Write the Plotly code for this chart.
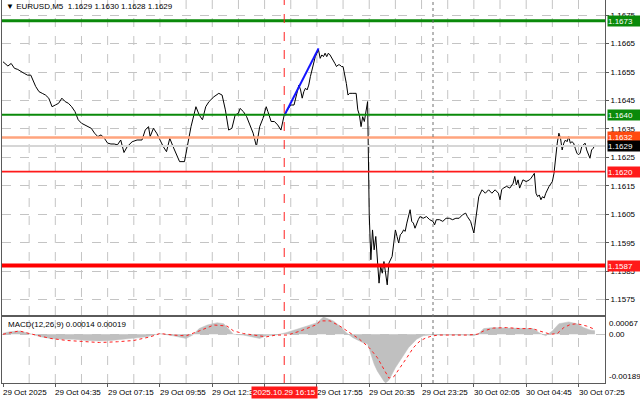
import plotly.graph_objects as go

# ---------------- data ----------------
price_bar = [0, 1, 3, 5, 7, 9, 11, 13, 15, 17, 20, 22, 24, 26, 28, 30, 32, 34, 36, 38, 40, 42, 44, 46, 48,
             50, 52, 54, 56, 58, 60, 62, 64, 66, 68, 70, 72, 74, 76, 79, 82, 85, 87, 89, 90, 92, 94, 96, 98,
             100, 102, 104, 106, 108, 111, 113, 115, 118, 120, 122, 124, 126, 129, 132, 134, 136, 138, 140,
             142, 144, 145, 147, 149, 151, 153, 155, 157, 159, 161, 162, 164, 166, 168, 170, 172, 174, 176,
             178, 180, 181, 182, 183, 184, 185, 186, 187, 188, 189, 190, 191, 192, 193, 194, 195, 196, 197,
             198, 199, 200, 201, 202, 203, 204, 205, 206, 207, 208, 209, 210, 211, 212, 214, 216, 217, 218,
             219, 220, 221, 222, 223, 224, 225, 226, 227, 228, 229, 230, 231, 232, 233, 234, 235, 236, 237,
             238, 239, 240, 241, 242, 243, 244, 245, 246, 247, 248, 249, 250, 251, 252, 253, 254, 255, 257,
             259, 261, 263, 264, 265, 267, 269, 271, 273, 275, 277, 279, 281, 283, 284, 286, 288, 289, 290,
             291, 293, 295, 297, 299, 301, 303, 304, 305, 306, 308, 310, 312, 313, 314, 315, 316, 318, 320,
             322, 323, 325, 326, 327, 328, 329, 330, 331, 332, 334, 336, 337, 338, 339, 340, 341, 342, 343,
             344, 345, 346, 347, 348, 349, 350, 351, 352, 353, 354, 356, 357, 358, 359, 360, 361, 362]
price_val = [1.16586, 1.16580, 1.16571, 1.16580, 1.16563, 1.16559, 1.16551, 1.16545, 1.16539, 1.16539,
             1.16499, 1.16481, 1.16475, 1.16469, 1.16458, 1.16428, 1.16434, 1.16440, 1.16458, 1.16446,
             1.16440, 1.16428, 1.16411, 1.16382, 1.16370, 1.16364, 1.16360, 1.16352, 1.16335, 1.16323,
             1.16329, 1.16317, 1.16300, 1.16297, 1.16297, 1.16294, 1.16311, 1.16267, 1.16288, 1.16305,
             1.16311, 1.16311, 1.16346, 1.16358, 1.16323, 1.16352, 1.16335, 1.16311, 1.16288, 1.16270,
             1.16317, 1.16288, 1.16259, 1.16235, 1.16235, 1.16300, 1.16358, 1.16428, 1.16399, 1.16382,
             1.16428, 1.16446, 1.16463, 1.16475, 1.16469, 1.16417, 1.16346, 1.16352, 1.16399, 1.16405,
             1.16422, 1.16411, 1.16393, 1.16364, 1.16335, 1.16288, 1.16358, 1.16387, 1.16428, 1.16411,
             1.16376, 1.16376, 1.16364, 1.16346, 1.16399, 1.16417, 1.16434, 1.16434, 1.16475, 1.16504,
             1.16487, 1.16458, 1.16481, 1.16493, 1.16487, 1.16504, 1.16534, 1.16557, 1.16586, 1.16604,
             1.16616, 1.16627, 1.16598, 1.16610, 1.16604, 1.16616, 1.16604, 1.16616, 1.16610, 1.16598,
             1.16592, 1.16580, 1.16569, 1.16575, 1.16575, 1.16569, 1.16569, 1.16545, 1.16510, 1.16469,
             1.16475, 1.16475, 1.16475, 1.16417, 1.16399, 1.16358, 1.16393, 1.16376, 1.16405, 1.16446,
             1.16050, 1.15890, 1.15995, 1.15925, 1.15972, 1.15902, 1.15808, 1.15867, 1.15843, 1.15884,
             1.15832, 1.15802, 1.15878, 1.15890, 1.15902, 1.15949, 1.15995, 1.15972, 1.15949, 1.15978,
             1.15984, 1.15995, 1.15990, 1.16019, 1.16042, 1.16066, 1.16025, 1.16019, 1.16001, 1.16019,
             1.16031, 1.16042, 1.16036, 1.16042, 1.16031, 1.16025, 1.16013, 1.16031, 1.16031, 1.16025,
             1.16036, 1.16036, 1.16031, 1.16036, 1.16036, 1.16048, 1.16054, 1.16042, 1.16025, 1.15984,
             1.16025, 1.16060, 1.16112, 1.16136, 1.16124, 1.16136, 1.16124, 1.16136, 1.16124, 1.16101,
             1.16136, 1.16142, 1.16148, 1.16142, 1.16159, 1.16183, 1.16153, 1.16171, 1.16142, 1.16171,
             1.16165, 1.16171, 1.16177, 1.16194, 1.16124, 1.16112, 1.16118, 1.16101, 1.16112, 1.16107,
             1.16124, 1.16148, 1.16165, 1.16194, 1.16253, 1.16300, 1.16335, 1.16317, 1.16276, 1.16300,
             1.16311, 1.16305, 1.16323, 1.16300, 1.16305, 1.16300, 1.16282, 1.16265, 1.16259, 1.16265,
             1.16288, 1.16300, 1.16276, 1.16259, 1.16247, 1.16276, 1.16282, 1.16294]

trend_bar = [172, 193]
trend_val = [1.16396, 1.16633]

hist_bar = [0, 4, 10, 15, 18, 23, 29, 35, 43, 51, 59, 66, 74, 82, 88, 92, 96, 104, 112, 116, 120, 125,
            131, 135, 139, 141, 147, 153, 157, 161, 167, 173, 180, 186, 192, 194, 196, 198, 202, 206, 210,
            214, 220, 223, 225, 227, 229, 231, 233, 234, 236, 240, 244, 248, 253, 257, 261, 267, 275, 284,
            288, 291, 294, 300, 308, 316, 324, 328, 332, 336, 340, 346, 351, 355, 359, 362]
hist_val = [0.00004, 0.00010, 0.00013, 0.00006, 0.00000, -0.00010, -0.00016, -0.00019, -0.00019, -0.00024,
            -0.00026, -0.00024, -0.00019, -0.00016, -0.00010, -0.00003, 0.00003, -0.00006, -0.00016,
            -0.00003, 0.00022, 0.00036, 0.00045, 0.00041, 0.00013, 0.00000, -0.00003, -0.00010, -0.00016,
            -0.00006, -0.00003, 0.00006, 0.00019, 0.00032, 0.00045, 0.00055, 0.00067, 0.00062, 0.00052,
            0.00032, 0.00006, -0.00013, -0.00032, -0.00038, -0.00074, -0.00116, -0.00143, -0.00165,
            -0.00182, -0.00189, -0.00178, -0.00130, -0.00091, -0.00052, -0.00019, -0.00006, -0.00003,
            -0.00003, -0.00003, -0.00003, -0.00006, 0.00003, 0.00022, 0.00026, 0.00024, 0.00024, 0.00022,
            0.00006, -0.00006, 0.00013, 0.00041, 0.00048, 0.00041, 0.00026, 0.00017, 0.00014]

sig_bar = [0, 10, 16, 29, 39, 49, 59, 70, 80, 90, 96, 104, 112, 120, 129, 137, 141, 147, 157, 161, 167,
           174, 182, 192, 194, 200, 206, 212, 218, 224, 229, 233, 236, 239, 243, 247, 251, 255, 259, 263,
           267, 284, 290, 294, 300, 308, 316, 324, 328, 335, 339, 343, 347, 351, 357, 361, 362]
sig_val = [0.00000, 0.00013, 0.00003, -0.00016, -0.00024, -0.00029, -0.00032, -0.00029, -0.00024,
           -0.00010, 0.00003, -0.00003, -0.00006, 0.00013, 0.00036, 0.00032, 0.00013, 0.00003, -0.00006,
           -0.00010, -0.00003, -0.00003, 0.00013, 0.00038, 0.00052, 0.00052, 0.00032, 0.00006, -0.00019,
           -0.00052, -0.00091, -0.00136, -0.00170, -0.00165, -0.00130, -0.00091, -0.00052, -0.00026,
           -0.00013, -0.00006, -0.00003, -0.00003, 0.00000, 0.00013, 0.00024, 0.00026, 0.00022, 0.00022,
           0.00013, 0.00000, 0.00003, 0.00026, 0.00038, 0.00041, 0.00032, 0.00024, 0.00019]

levels = [1.1673, 1.1640, 1.1632, 1.1629, 1.1620, 1.1587]
level_labels = ["1.1673", "1.1640", "1.1632", "1.1629", "1.1620", "1.1587"]
level_colors = ["#0A8A0A", "#0A8A0A", "#FFA47E", "#D6D6D6", "#FF1A1A", "#FF0000"]
level_widths = [3, 2, 2.5, 2, 1.6, 4]
label_bg = ["#0A8A0A", "#0A8A0A", "#FF4A10", "#000000", "#FF1A1A", "#FF1A1A"]

price_ticks = [1.1575, 1.1585, 1.1595, 1.1605, 1.1615, 1.1625, 1.1635, 1.1645, 1.1655, 1.1665, 1.1675]
price_tick_text = ["1.1575", "1.1585", "1.1595", "1.1605", "1.1615", "1.1625", "1.1635", "1.1645",
                   "1.1655", "1.1665", "1.1675"]

x_tick_bars = [0, 32, 64, 96, 128, 160, 192, 224, 256, 288, 320, 352]
x_label_bars = [0, 32, 64, 96, 128, 192, 224, 256, 288, 320, 352]
x_label_text = ["29 Oct 2025", "29 Oct 04:35", "29 Oct 07:15", "29 Oct 09:55", "29 Oct 12:35",
                "29 Oct 17:55", "29 Oct 20:35", "29 Oct 23:25", "30 Oct 02:05",
                "30 Oct 04:45", "30 Oct 07:25"]
grid_bars = [16, 32, 48, 64, 80, 96, 112, 128, 144, 160, 176, 192, 208, 224, 240, 256, 272, 288, 304,
             320, 336, 352]

event_bar = 172
event_label = "2025.10.29 16:15"
day_sep_bar = 263

macd_levels = [0.00067, 0.0, -0.00189]
macd_level_text = ["0.00067", "0.00", "-0.00189"]
macd_range = [-0.00189, 0.00067]
price_range = [1.15696, 1.16803]

title_text = "▼ EURUSD,M5  1.1629 1.1630 1.1628 1.1629"
macd_text = "MACD(12,26,9) 0.00014 0.00019"

# ---------------- figure ----------------
FONT = "Liberation Sans, Arial, sans-serif"
GRID = "#C4C4C4"
FRAME = "#5A5A5A"

fig = go.Figure()

fig.add_trace(go.Scatter(x=price_bar, y=price_val, mode="lines",
                         line=dict(color="#000000", width=1), xaxis="x", yaxis="y",
                         hoverinfo="skip"))
fig.add_trace(go.Scatter(x=trend_bar, y=trend_val, mode="lines",
                         line=dict(color="#1414FF", width=2), xaxis="x", yaxis="y",
                         hoverinfo="skip"))
fig.add_trace(go.Scatter(x=hist_bar, y=hist_val, mode="lines", fill="tozeroy",
                         fillcolor="#C0C0C0", line=dict(color="#C0C0C0", width=0.5),
                         xaxis="x2", yaxis="y2", hoverinfo="skip"))
fig.add_trace(go.Scatter(x=sig_bar, y=sig_val, mode="lines",
                         line=dict(color="#FF2020", width=1, dash="dot"),
                         xaxis="x2", yaxis="y2", hoverinfo="skip"))

shapes = []
# vertical dashed grid lines in both panels
for gb in grid_bars:
    for ya in ("y", "y2"):
        shapes.append(dict(type="line", xref="x", yref=ya + " domain", x0=gb, x1=gb, y0=0, y1=1,
                           line=dict(color=GRID, width=1, dash="dash"), layer="below"))
for lv, col, w in zip(levels, level_colors, level_widths):
    shapes.append(dict(type="line", xref="paper", yref="y", x0=0, x1=1, y0=lv, y1=lv,
                       line=dict(color=col, width=w), layer="above"))
# event (red dashed) vertical line across both panels
shapes.append(dict(type="line", xref="x", yref="paper", x0=event_bar, x1=event_bar, y0=0, y1=1,
                   line=dict(color="#FF2020", width=1, dash="dash"), layer="above"))
# day separator
shapes.append(dict(type="line", xref="x", yref="paper", x0=day_sep_bar, x1=day_sep_bar, y0=0, y1=1,
                   line=dict(color="#707070", width=1, dash="dot"), layer="above"))

annotations = []
for lv, txt, bg in zip(levels, level_labels, label_bg):
    annotations.append(dict(xref="paper", yref="y", x=1.0033, y=lv, text=txt, showarrow=False,
                            xanchor="left", yanchor="middle", bgcolor=bg, borderpad=0,
                            width=32, height=10, align="left",
                            font=dict(family=FONT, size=8, color="#FFFFFF")))
for lv, txt in zip(macd_levels, macd_level_text):
    annotations.append(dict(xref="paper", yref="y2", x=1.0033, y=lv, text=txt, showarrow=False,
                            xanchor="left",
                            yanchor="top" if lv == max(macd_levels) else (
                                "bottom" if lv == min(macd_levels) else "middle"),
                            font=dict(family=FONT, size=8, color="#000000")))
for xb, txt in zip(x_label_bars, x_label_text):
    annotations.append(dict(xref="x2", yref="paper", x=xb, y=-0.0235, text=txt, showarrow=False,
                            xanchor="left", yanchor="middle", xshift=-2,
                            font=dict(family=FONT, size=8, color="#000000")))
annotations.append(dict(xref="x2", yref="paper", x=event_bar, y=-0.0235, text=event_label,
                        showarrow=False, xanchor="center", yanchor="middle", bgcolor="#FF1A1A",
                        borderpad=1, font=dict(family=FONT, size=8, color="#FFFFFF")))
annotations.append(dict(xref="paper", yref="paper", x=0.0033, y=0.982, text=title_text,
                        showarrow=False, xanchor="left", yanchor="middle",
                        font=dict(family=FONT, size=8, color="#000000")))
annotations.append(dict(xref="paper", yref="paper", x=0.0066, y=0.154, text=macd_text,
                        showarrow=False, xanchor="left", yanchor="middle",
                        font=dict(family=FONT, size=8, color="#000000")))

xr = [-0.61, 368.2]

fig.update_layout(
    width=640, height=401,
    margin=dict(l=2, r=35, t=0, b=18),
    autosize=False,
    paper_bgcolor="#FFFFFF", plot_bgcolor="#FFFFFF",
    showlegend=False,
    font=dict(family=FONT, size=8, color="#000000"),
    xaxis=dict(range=xr, anchor="y", domain=[0, 1], showticklabels=False, ticks="",
               showgrid=False, showline=True, linecolor=FRAME, linewidth=1, mirror=True,
               zeroline=False, fixedrange=True),
    xaxis2=dict(range=xr, anchor="y2", domain=[0, 1], showticklabels=False,
                tickvals=x_tick_bars, ticks="outside", ticklen=3, tickcolor=FRAME,
                showgrid=False, showline=True, linecolor=FRAME, linewidth=1, mirror=True,
                zeroline=False, fixedrange=True),
    yaxis=dict(domain=[0.1775, 1], range=price_range, side="right", anchor="x",
               tickvals=price_ticks, ticktext=price_tick_text, showgrid=True, gridcolor=GRID,
               griddash="dash", showline=True, linecolor=FRAME, linewidth=1, mirror=True,
               ticks="outside", ticklen=3, tickcolor=FRAME, zeroline=False,
               tickfont=dict(family=FONT, size=8, color="#000000"), fixedrange=True),
    yaxis2=dict(domain=[0, 0.1723], range=macd_range, side="right", anchor="x2",
                tickvals=[0.0], showticklabels=False, showgrid=True, gridcolor=GRID,
                griddash="dash", showline=True, linecolor=FRAME, linewidth=1, mirror=True,
                ticks="", zeroline=False, fixedrange=True),
    shapes=shapes,
    annotations=annotations,
)

fig.write_html("out.html", config={"displayModeBar": False},
               post_script="document.body.style.margin='0px';document.body.style.overflow='hidden';")
